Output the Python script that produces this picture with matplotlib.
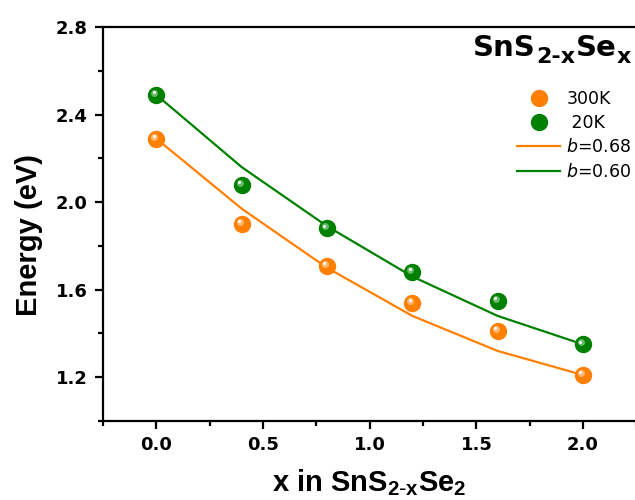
import matplotlib
matplotlib.use("Agg")
import matplotlib.pyplot as plt
import matplotlib.transforms as mtransforms
from matplotlib.ticker import MultipleLocator, FormatStrFormatter

# ---- data ----
x_vals = [0.0, 0.4, 0.8, 1.2, 1.6, 2.0]
e_300K = [2.29, 1.90, 1.71, 1.54, 1.41, 1.21]
e_20K = [2.49, 2.08, 1.88, 1.68, 1.55, 1.35]
fit_b068 = [2.29, 1.97, 1.70, 1.48, 1.32, 1.21]
fit_b060 = [2.49, 2.16, 1.89, 1.66, 1.48, 1.35]
labels = ["300K", " 20K", r"$\mathit{b}$=0.68", r"$\mathit{b}$=0.60"]
title_parts = [("SnS", False), ("2-x", True), ("Se", False), ("x", True)]

c_orange = "#FF8000"
c_green = "#008000"
c_orange_hi = "#FFC080"
c_green_hi = "#70C070"

plt.rcParams["mathtext.default"] = "regular"

W, H = 635, 500
fig = plt.figure(figsize=(W / 100, H / 100), dpi=100)
ax = fig.add_axes([103 / W, (500 - 421) / H, 533.4 / W, 394 / H])

# fit lines
l1, = ax.plot(x_vals, fit_b068, color=c_orange, lw=1.6, zorder=2)
l2, = ax.plot(x_vals, fit_b060, color=c_green, lw=1.6, zorder=2)

# sphere-like markers
def spheres(xs, ys, col, hi):
    m, = ax.plot(xs, ys, 'o', ms=11.5, color=col, mec=col, lw=0, zorder=3)
    off1 = mtransforms.ScaledTranslation(-1.5 / 72, 1.5 / 72, fig.dpi_scale_trans)
    ax.plot(xs, ys, 'o', ms=5, color=hi, mec='none', lw=0, zorder=4,
            transform=ax.transData + off1, alpha=0.9)
    off2 = mtransforms.ScaledTranslation(-2.0 / 72, 2.0 / 72, fig.dpi_scale_trans)
    ax.plot(xs, ys, 'o', ms=2.2, color='white', mec='none', lw=0, zorder=5,
            transform=ax.transData + off2)
    return m

m1 = spheres(x_vals, e_300K, c_orange, c_orange_hi)
m2 = spheres(x_vals, e_20K, c_green, c_green_hi)

ax.set_xlim(-0.25, 2.25)
ax.set_ylim(1.0, 2.8)
ax.xaxis.set_major_locator(MultipleLocator(0.5))
ax.xaxis.set_minor_locator(MultipleLocator(0.25))
ax.yaxis.set_major_locator(MultipleLocator(0.4))
ax.yaxis.set_minor_locator(MultipleLocator(0.2))
ax.set_yticks([1.2, 1.6, 2.0, 2.4, 2.8])
ax.xaxis.set_major_formatter(FormatStrFormatter("%.1f"))
ax.yaxis.set_major_formatter(FormatStrFormatter("%.1f"))

for s in ax.spines.values():
    s.set_linewidth(1.6)
ax.spines["right"].set_visible(False)
ax.tick_params(which='major', direction='out', length=6, width=1.6, pad=5)
ax.tick_params(which='minor', direction='out', length=3.5, width=1.6)
for lab in ax.get_xticklabels() + ax.get_yticklabels():
    lab.set_fontfamily("DejaVu Sans")
    lab.set_fontweight("bold")
    lab.set_fontsize(13)

ax.set_ylabel("Energy (eV)", fontfamily="Liberation Sans", fontweight="bold", fontsize=21)
ax.yaxis.set_label_coords(-0.112, 0.471)
ax.set_xlabel(r"x in SnS$_{2\text{-}x}$Se$_2$", fontfamily="Liberation Sans",
              fontweight="bold", fontsize=21, labelpad=9)

# title built from pieces (large subscripts)
fig.canvas.draw()
renderer = fig.canvas.get_renderer()
xpos = 473.0
base = 56.0
for txt, sub in title_parts:
    t = fig.text(xpos / W, 1 - (base + (7 if sub else 0)) / H, txt,
                 fontfamily="DejaVu Sans", fontweight="bold",
                 fontsize=16 if sub else 21, va="baseline", ha="left")
    bb = t.get_window_extent(renderer)
    xpos = bb.x1 + 0.5

leg = ax.legend([m1, m2, l1, l2], labels, loc="upper left",
                bbox_to_anchor=(517 / W, 1 - 90 / H), bbox_transform=fig.transFigure,
                frameon=False, borderpad=0, borderaxespad=0, handlelength=2.5,
                handletextpad=0.35, labelspacing=0.36,
                prop={"family": "DejaVu Sans", "size": 12.5})

fig.savefig("out.png", dpi=100)
